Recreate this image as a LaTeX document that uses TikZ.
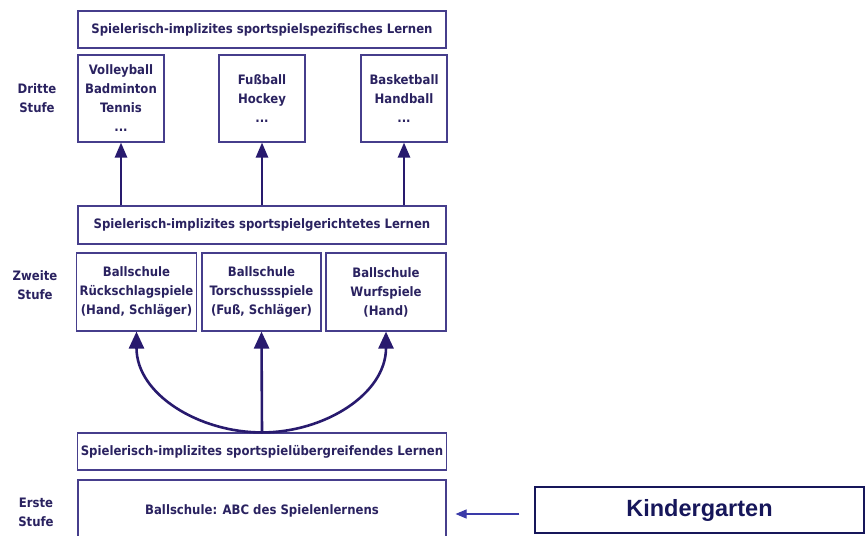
\documentclass[tikz,border=0pt]{standalone}
\usepackage{fontspec}
\usepackage{xcolor}
\usepackage{tikz}
\usetikzlibrary{arrows.meta,positioning}
\newfontfamily\stufefont{DejaVu Sans Condensed}
\newfontfamily\kgfont{Liberation Sans}
\definecolor{boxline}{RGB}{70,62,140}
\definecolor{textnavy}{RGB}{42,34,96}
\definecolor{arrownavy}{RGB}{40,26,110}
\definecolor{kgnavy}{RGB}{22,22,90}
\definecolor{kgarrow}{RGB}{58,58,168}

\begin{document}
\begin{tikzpicture}[
    x=1pt, y=-1pt,
    stage/.style={rectangle, draw=boxline, line width=1.1pt,
                  minimum width=368pt, minimum height=37pt, align=center,
                  font=\stufefont\bfseries\fontsize{13}{19}\selectfont, text=textnavy},
    sport/.style={rectangle, draw=boxline, line width=1.1pt,
                  minimum width=86pt, minimum height=87pt, align=center,
                  font=\stufefont\bfseries\fontsize{13}{19}\selectfont, text=textnavy},
    school/.style={rectangle, draw=boxline, line width=1.1pt,
                   minimum width=119pt, minimum height=78pt, align=center,
                   font=\stufefont\bfseries\fontsize{13}{19}\selectfont, text=textnavy},
    level/.style={align=center, font=\stufefont\bfseries\fontsize{13}{19}\selectfont,
                  text=textnavy},
    lift/.style={-{Triangle[width=12pt,length=15pt]}, line width=2.6pt, arrownavy},
]
    \useasboundingbox (0,0) rectangle (866,535);

    % Dritte Stufe
    \node[stage] (spez) at (262,29.5) {Spielerisch-implizites sportspielspezifisches Lernen};
    \node[sport] (volley) at (121,98.5) {Volleyball\\Badminton\\Tennis\\...};
    \node[sport] (fuss) at (262,98.5) {Fußball\\Hockey\\...};
    \node[sport] (basket) at (404,98.5) {Basketball\\Handball\\...};
    \node[level] (dritte) at (37,98) {Dritte\\Stufe};

    % Zweite Stufe
    \node[stage, minimum height=38pt] (ger) at (262,225) {Spielerisch-implizites sportspielgerichtetes Lernen};
    \node[school] (rueck) at (136.5,292) {Ballschule\\Rückschlagspiele\\(Hand, Schläger)};
    \node[school] (tor) at (261.5,292) {Ballschule\\Torschussspiele\\(Fuß, Schläger)};
    \node[school, minimum width=120pt] (wurf) at (386,292) {Ballschule\\Wurfspiele\\(Hand)};
    \node[level] (zweite) at (35,285) {Zweite\\Stufe};

    % Erste Stufe
    \node[stage] (ueber) at (262,451.5) {Spielerisch-implizites sportspielübergreifendes Lernen};
    \node[stage, minimum height=62pt] (abc) at (262,511) {Ballschule: ABC des Spielenlernens};
    \node[level] (erste) at (36,512) {Erste\\Stufe};

    % Kindergarten
    \node[rectangle, draw=kgnavy, line width=1.3pt, minimum width=329pt,
          minimum height=46pt, font=\kgfont\bfseries\fontsize{23.5}{28}\selectfont,
          text=kgnavy] (kg) at (699.5,510) {Kindergarten};

    % Pfeile
    \foreach \target in {volley, fuss, basket}
        \draw[lift] (ger.north -| \target) -- (\target.south);
    \draw[lift, -{Triangle[width=15pt,length=17pt]}] (ueber.north) to[out=180, in=-90] (rueck.south);
    \draw[lift, -{Triangle[width=15pt,length=17pt]}] (ueber.north) -- (tor.south);
    \draw[lift, -{Triangle[width=15pt,length=17pt]}] (ueber.north) to[out=0, in=-90] (wurf.south);
    \draw[-{Triangle[width=9pt,length=11pt]}, line width=1.1pt, kgarrow,
          shorten <=15pt, shorten >=9pt]
        ([yshift=-4pt]kg.west) -- ([yshift=-4pt]kg.west -| abc.east);
\end{tikzpicture}
\end{document}
